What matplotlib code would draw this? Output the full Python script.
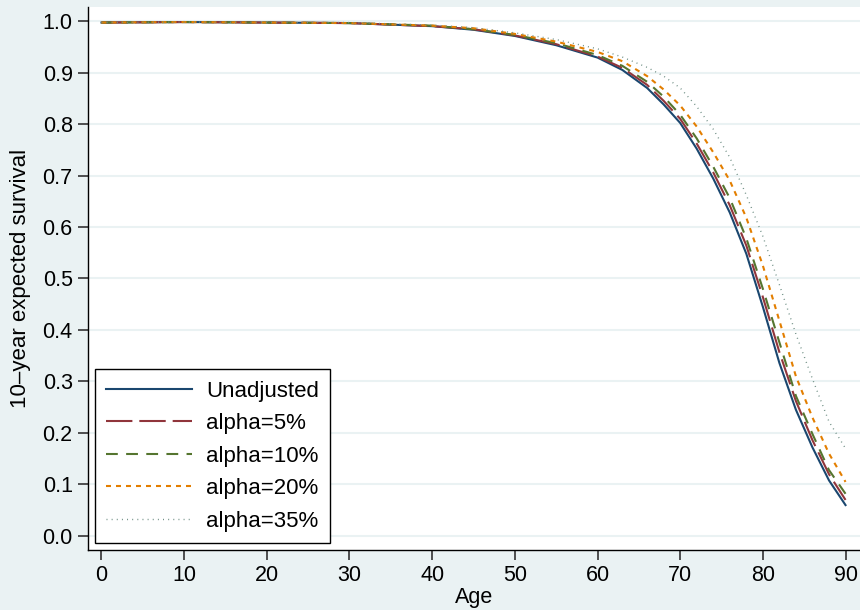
import matplotlib
matplotlib.use("Agg")
import matplotlib.pyplot as plt

plt.rcParams['font.family'] = ['Liberation Sans', 'DejaVu Sans']
plt.rcParams['lines.scale_dashes'] = False

# 10-year expected survival by age
age = [0, 10, 20, 30, 40, 45, 50, 55, 60, 63, 66, 68, 70, 72, 74, 76,
       78, 80, 82, 84, 86, 88, 90]
unadjusted = [0.997, 0.998, 0.997, 0.996, 0.990, 0.983, 0.971, 0.953, 0.929,
              0.905, 0.870, 0.838, 0.802, 0.752, 0.694, 0.628, 0.548, 0.445,
              0.336, 0.245, 0.172, 0.108, 0.060]
alpha5 = [0.997, 0.998, 0.997, 0.996, 0.990, 0.984, 0.972, 0.955, 0.931,
          0.909, 0.876, 0.845, 0.810, 0.762, 0.706, 0.642, 0.564, 0.464,
          0.357, 0.262, 0.186, 0.120, 0.070]
alpha10 = [0.997, 0.998, 0.997, 0.996, 0.991, 0.984, 0.973, 0.957, 0.934,
           0.913, 0.882, 0.853, 0.818, 0.772, 0.717, 0.656, 0.578, 0.480,
           0.376, 0.272, 0.198, 0.128, 0.082]
alpha20 = [0.997, 0.998, 0.997, 0.996, 0.991, 0.986, 0.975, 0.960, 0.940,
           0.922, 0.893, 0.867, 0.836, 0.795, 0.745, 0.690, 0.618, 0.525,
           0.418, 0.310, 0.230, 0.160, 0.105]
alpha35 = [0.997, 0.998, 0.997, 0.997, 0.992, 0.987, 0.977, 0.964, 0.946,
           0.930, 0.910, 0.893, 0.870, 0.834, 0.790, 0.735, 0.662, 0.582,
           0.488, 0.392, 0.305, 0.222, 0.170]

labels = ['Unadjusted', 'alpha=5%', 'alpha=10%', 'alpha=20%', 'alpha=35%']
xticks = list(range(0, 91, 10))
yticks = [i / 10 for i in range(11)]

bg = '#eaf2f3'
fig = plt.figure(figsize=(8.6, 6.1), dpi=100, facecolor=bg)
ax = fig.add_axes([88 / 860, 60 / 610, 772 / 860, 543 / 610])
ax.set_facecolor('white')

styles = [
    dict(color='#1a476f', linestyle='-'),
    dict(color='#90353b', linestyle=(0, (19, 5))),
    dict(color='#55752f', linestyle=(0, (8.5, 6))),
    dict(color='#e37e00', linestyle=(0, (3.6, 3.6))),
    dict(color='#6e8e84', linestyle=(0, (0.7, 3.0)), linewidth=1.0),
]
series = [unadjusted, alpha5, alpha10, alpha20, alpha35]
for ys, lab, st in zip(series, labels, styles):
    kw = dict(linewidth=1.5)
    kw.update(st)
    ax.plot(age, ys, label=lab, **kw)

ax.set_xlim(-1.63, 91.75)
ax.set_ylim(-0.0272, 1.0272)
ax.set_xticks(xticks)
ax.set_yticks(yticks)
ax.set_yticklabels([f'{v:.1f}' for v in yticks])
ax.yaxis.grid(True, color=bg, linewidth=1.5)
ax.set_axisbelow(True)

for s in ['top', 'right']:
    ax.spines[s].set_visible(False)
for s in ['left', 'bottom']:
    ax.spines[s].set_linewidth(1.0)
    ax.spines[s].set_color('black')

ax.tick_params(axis='both', length=7, width=1.2, color='#333333',
               labelsize=15.5, labelcolor='black')
ax.tick_params(axis='y', pad=4)
ax.tick_params(axis='x', pad=3.5)

ax.set_xlabel('Age', fontsize=15.5, labelpad=1)
ax.set_ylabel('10\u2013year expected survival', fontsize=16, labelpad=8)

leg = ax.legend(loc='lower left', bbox_to_anchor=(0.009, 0.013),
                borderaxespad=0, fancybox=False, framealpha=1,
                edgecolor='black', fontsize=16, handlelength=3.85,
                handletextpad=0.65, labelspacing=0.52, borderpad=0.5)
leg.get_frame().set_linewidth(1.0)

fig.savefig('out.png', dpi=100, facecolor=bg)
